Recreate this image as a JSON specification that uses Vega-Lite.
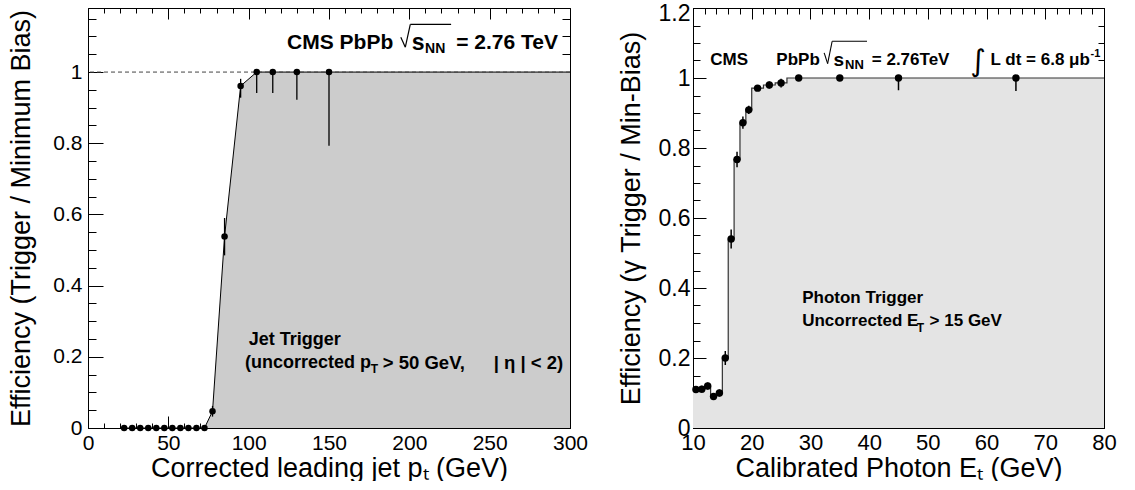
{
  "$schema": "https://vega.github.io/schema/vega-lite/v6.json",
  "background": "white",
  "padding": {"left": 7, "top": 2, "right": 0, "bottom": 0},
  "spacing": 29,
  "datasets": {
    "jet": [
      {"pt": 22.5, "eff": 0, "lo": null, "hi": null},
      {"pt": 27.5, "eff": 0, "lo": null, "hi": null},
      {"pt": 32.5, "eff": 0, "lo": null, "hi": null},
      {"pt": 37.5, "eff": 0, "lo": null, "hi": null},
      {"pt": 42.5, "eff": 0, "lo": null, "hi": null},
      {"pt": 47.5, "eff": 0, "lo": null, "hi": null},
      {"pt": 52.5, "eff": 0, "lo": null, "hi": null},
      {"pt": 57.5, "eff": 0, "lo": null, "hi": null},
      {"pt": 62.5, "eff": 0, "lo": null, "hi": null},
      {"pt": 67.5, "eff": 0, "lo": null, "hi": null},
      {"pt": 72.5, "eff": 0, "lo": null, "hi": null},
      {"pt": 77.5, "eff": 0.047, "lo": 0.032, "hi": 0.062},
      {"pt": 85, "eff": 0.538, "lo": 0.485, "hi": 0.59},
      {"pt": 95, "eff": 0.961, "lo": 0.928, "hi": 0.981},
      {"pt": 105, "eff": 1, "lo": 0.941, "hi": 1},
      {"pt": 115, "eff": 1, "lo": 0.941, "hi": 1},
      {"pt": 130, "eff": 1, "lo": 0.922, "hi": 1},
      {"pt": 150, "eff": 1, "lo": 0.793, "hi": 1}
    ],
    "jetcurve": [
      {"pt": 22.5, "eff": 0},
      {"pt": 72.5, "eff": 0},
      {"pt": 77.5, "eff": 0.047},
      {"pt": 85, "eff": 0.538},
      {"pt": 95, "eff": 0.961},
      {"pt": 105, "eff": 1},
      {"pt": 300, "eff": 1}
    ],
    "pho": [
      {"et": 10.5, "eff": 0.11, "lo": 0.1, "hi": 0.12},
      {"et": 11.5, "eff": 0.111, "lo": 0.101, "hi": 0.121},
      {"et": 12.5, "eff": 0.12, "lo": 0.11, "hi": 0.13},
      {"et": 13.5, "eff": 0.09, "lo": 0.08, "hi": 0.1},
      {"et": 14.5, "eff": 0.1, "lo": 0.09, "hi": 0.11},
      {"et": 15.5, "eff": 0.2, "lo": 0.18, "hi": 0.22},
      {"et": 16.5, "eff": 0.54, "lo": 0.513, "hi": 0.567},
      {"et": 17.5, "eff": 0.767, "lo": 0.745, "hi": 0.789},
      {"et": 18.5, "eff": 0.872, "lo": 0.855, "hi": 0.89},
      {"et": 19.5, "eff": 0.909, "lo": 0.897, "hi": 0.921},
      {"et": 21, "eff": 0.971, "lo": 0.963, "hi": 0.979},
      {"et": 23, "eff": 0.98, "lo": 0.97, "hi": 0.99},
      {"et": 25, "eff": 0.986, "lo": 0.973, "hi": 0.998},
      {"et": 28, "eff": 1, "lo": 0.995, "hi": 1},
      {"et": 35, "eff": 1, "lo": 0.995, "hi": 1},
      {"et": 45, "eff": 1, "lo": 0.965, "hi": 1},
      {"et": 65, "eff": 1, "lo": 0.963, "hi": 1}
    ],
    "phostep": [
      {"edge": 10, "eff": 0.11},
      {"edge": 11, "eff": 0.111},
      {"edge": 12, "eff": 0.12},
      {"edge": 13, "eff": 0.09},
      {"edge": 14, "eff": 0.1},
      {"edge": 15, "eff": 0.2},
      {"edge": 16, "eff": 0.54},
      {"edge": 17, "eff": 0.767},
      {"edge": 18, "eff": 0.872},
      {"edge": 19, "eff": 0.909},
      {"edge": 20, "eff": 0.971},
      {"edge": 22, "eff": 0.98},
      {"edge": 24, "eff": 0.986},
      {"edge": 26, "eff": 1},
      {"edge": 30, "eff": 1},
      {"edge": 40, "eff": 1},
      {"edge": 50, "eff": 1},
      {"edge": 80, "eff": 1}
    ],
    "one": [{}]
  },
  "hconcat": [
    {
      "width": 482,
      "height": 420,
      "resolve": {"axis": {"x": "independent", "y": "independent"}},
      "layer": [
        {
          "data": {"name": "jetcurve"},
          "mark": {"type": "area", "color": "#cccccc", "clip": true},
          "encoding": {
            "x": {"field": "pt", "type": "quantitative", "scale": {"domain": [0, 300], "nice": false},
              "axis": {"orient": "bottom", "values": [0, 50, 100, 150, 200, 250, 300], "ticks": false, "domain": false, "labelFontSize": 21, "labelPadding": 4, "labelFlush": false, "labelOverlap": false, "title": "Corrected leading jet pₜ (GeV)", "titleFontSize": 27, "titlePadding": 2}},
            "y": {"field": "eff", "type": "quantitative", "stack": null, "scale": {"domain": [0, 1.18], "nice": false},
              "axis": {"orient": "left", "values": [0, 0.2, 0.4, 0.6, 0.8, 1], "format": "~g", "ticks": false, "domain": false, "labelFontSize": 21, "labelPadding": 6, "labelFlush": false, "labelOverlap": false, "title": "Efficiency (Trigger / Minimum Bias)", "titleFontSize": 27, "titlePadding": 17}}
          }
        },
        {
          "data": {"name": "jetcurve"},
          "mark": {"type": "line", "color": "black", "strokeWidth": 1, "clip": true},
          "encoding": {
            "x": {"field": "pt", "type": "quantitative",
              "axis": {"orient": "bottom", "values": [0,10,20,30,40,50,60,70,80,90,100,110,120,130,140,150,160,170,180,190,200,210,220,230,240,250,260,270,280,290,300], "labels": false, "title": null, "tickSize": -5, "domain": true}},
            "y": {"field": "eff", "type": "quantitative",
              "axis": {"orient": "left", "values": [0,0.05,0.1,0.15,0.2,0.25,0.3,0.35,0.4,0.45,0.5,0.55,0.6,0.65,0.7,0.75,0.8,0.85,0.9,0.95,1,1.05,1.1,1.15], "labels": false, "title": null, "tickSize": -8, "domain": true}}
          }
        },
        {
          "data": {"name": "one"},
          "mark": {"type": "rule", "color": "#444444", "strokeDash": [4, 3], "strokeWidth": 1},
          "encoding": {"y": {"datum": 1, "type": "quantitative", "axis": null}}
        },
        {
          "data": {"name": "jet"},
          "transform": [{"filter": "datum.lo != null"}],
          "mark": {"type": "rule", "color": "black", "strokeWidth": 1.3},
          "encoding": {
            "x": {"field": "pt", "type": "quantitative",
              "axis": {"orient": "bottom", "values": [0, 50, 100, 150, 200, 250, 300], "labels": false, "title": null, "tickSize": -12, "domain": false}},
            "y": {"field": "lo", "type": "quantitative",
              "axis": {"orient": "left", "values": [0, 0.2, 0.4, 0.6, 0.8, 1], "labels": false, "title": null, "tickSize": -15, "domain": false}},
            "y2": {"field": "hi"}
          }
        },
        {
          "data": {"name": "jet"},
          "mark": {"type": "circle", "color": "black", "opacity": 1, "size": 42},
          "encoding": {
            "x": {"field": "pt", "type": "quantitative",
              "axis": {"orient": "top", "values": [0,10,20,30,40,50,60,70,80,90,100,110,120,130,140,150,160,170,180,190,200,210,220,230,240,250,260,270,280,290,300], "labels": false, "title": null, "tickSize": -5, "domain": true}},
            "y": {"field": "eff", "type": "quantitative",
              "axis": {"orient": "right", "values": [0,0.05,0.1,0.15,0.2,0.25,0.3,0.35,0.4,0.45,0.5,0.55,0.6,0.65,0.7,0.75,0.8,0.85,0.9,0.95,1,1.05,1.1,1.15], "labels": false, "title": null, "tickSize": -8, "domain": true}}
          }
        },
        {
          "data": {"name": "one"},
          "mark": {"type": "text", "text": "CMS PbPb", "align": "right", "fontSize": 21, "fontWeight": "bold", "font": "Liberation Sans", "color": "black"},
          "encoding": {
            "x": {"datum": 190, "type": "quantitative",
              "axis": {"orient": "top", "values": [0, 50, 100, 150, 200, 250, 300], "labels": false, "title": null, "tickSize": -11, "domain": false}},
            "y": {"datum": 1.082, "type": "quantitative",
              "axis": {"orient": "right", "values": [0, 0.2, 0.4, 0.6, 0.8, 1], "labels": false, "title": null, "tickSize": -15, "domain": false}}
          }
        },
        {
          "data": {"name": "one"},
          "mark": {"type": "rule", "color": "black", "strokeWidth": 1.2},
          "encoding": {"x": {"datum": 194.7, "type": "quantitative", "axis": null}, "x2": {"datum": 197.5}, "y": {"datum": 1.098, "type": "quantitative", "axis": null}, "y2": {"datum": 1.07}}
        },
        {
          "data": {"name": "one"},
          "mark": {"type": "rule", "color": "black", "strokeWidth": 1.2},
          "encoding": {"x": {"datum": 197.5, "type": "quantitative", "axis": null}, "x2": {"datum": 200.6}, "y": {"datum": 1.07, "type": "quantitative", "axis": null}, "y2": {"datum": 1.134}}
        },
        {
          "data": {"name": "one"},
          "mark": {"type": "rule", "color": "black", "strokeWidth": 1.2},
          "encoding": {"x": {"datum": 200.6, "type": "quantitative", "axis": null}, "x2": {"datum": 226}, "y": {"datum": 1.134, "type": "quantitative", "axis": null}}
        },
        {
          "data": {"name": "one"},
          "mark": {"type": "text", "text": "s", "align": "left", "fontSize": 23, "fontWeight": "bold", "font": "Liberation Sans", "color": "black"},
          "encoding": {"x": {"datum": 201.5, "type": "quantitative", "axis": null}, "y": {"datum": 1.082, "type": "quantitative", "axis": null}}
        },
        {
          "data": {"name": "one"},
          "mark": {"type": "text", "text": "NN", "align": "left", "fontSize": 14, "fontWeight": "bold", "font": "Liberation Sans", "color": "black"},
          "encoding": {"x": {"datum": 209.8, "type": "quantitative", "axis": null}, "y": {"datum": 1.066, "type": "quantitative", "axis": null}}
        },
        {
          "data": {"name": "one"},
          "mark": {"type": "text", "text": "= 2.76 TeV", "align": "right", "fontSize": 21, "fontWeight": "bold", "font": "Liberation Sans", "color": "black"},
          "encoding": {"x": {"datum": 292.5, "type": "quantitative", "axis": null}, "y": {"datum": 1.082, "type": "quantitative", "axis": null}}
        },
        {
          "data": {"name": "one"},
          "mark": {"type": "text", "text": "Jet Trigger", "align": "left", "fontSize": 18, "fontWeight": "bold", "font": "Liberation Sans", "color": "black"},
          "encoding": {"x": {"datum": 100, "type": "quantitative", "axis": null}, "y": {"datum": 0.247, "type": "quantitative", "axis": null}}
        },
        {
          "data": {"name": "one"},
          "mark": {"type": "text", "text": "(uncorrected p", "align": "left", "fontSize": 18, "fontWeight": "bold", "font": "Liberation Sans", "color": "black"},
          "encoding": {"x": {"datum": 97.7, "type": "quantitative", "axis": null}, "y": {"datum": 0.182, "type": "quantitative", "axis": null}}
        },
        {
          "data": {"name": "one"},
          "mark": {"type": "text", "text": "T", "align": "left", "fontSize": 12, "fontWeight": "bold", "font": "Liberation Sans", "color": "black"},
          "encoding": {"x": {"datum": 176, "type": "quantitative", "axis": null}, "y": {"datum": 0.165, "type": "quantitative", "axis": null}}
        },
        {
          "data": {"name": "one"},
          "mark": {"type": "text", "text": "> 50 GeV,", "align": "left", "fontSize": 18.5, "fontWeight": "bold", "font": "Liberation Sans", "color": "black"},
          "encoding": {"x": {"datum": 183.5, "type": "quantitative", "axis": null}, "y": {"datum": 0.182, "type": "quantitative", "axis": null}}
        },
        {
          "data": {"name": "one"},
          "mark": {"type": "text", "text": "| η | < 2)", "align": "right", "fontSize": 18.5, "fontWeight": "bold", "font": "Liberation Sans", "color": "black"},
          "encoding": {"x": {"datum": 295.8, "type": "quantitative", "axis": null}, "y": {"datum": 0.182, "type": "quantitative", "axis": null}}
        }
      ]
    },
    {
      "width": 411,
      "height": 420,
      "resolve": {"axis": {"x": "independent", "y": "independent"}},
      "layer": [
        {
          "data": {"name": "phostep"},
          "mark": {"type": "area", "color": "#e4e4e4", "interpolate": "step-after", "clip": true},
          "encoding": {
            "x": {"field": "edge", "type": "quantitative", "scale": {"domain": [10, 80], "nice": false},
              "axis": {"orient": "bottom", "values": [10, 20, 30, 40, 50, 60, 70, 80], "ticks": false, "domain": false, "labelFontSize": 22, "labelPadding": 4, "labelFlush": false, "labelOverlap": false, "title": "Calibrated Photon Eₜ (GeV)", "titleFontSize": 27, "titlePadding": 2}},
            "y": {"field": "eff", "type": "quantitative", "stack": null, "scale": {"domain": [0, 1.2], "nice": false},
              "axis": {"orient": "left", "values": [0, 0.2, 0.4, 0.6, 0.8, 1], "format": "~g", "ticks": false, "domain": false, "labelFontSize": 23, "labelPadding": 3, "labelFlush": false, "labelOverlap": false, "title": "Efficiency (γ Trigger / Min-Bias)", "titleFontSize": 27, "titlePadding": 13}}
          }
        },
        {
          "data": {"name": "phostep"},
          "mark": {"type": "line", "color": "#333333", "strokeWidth": 1.2, "interpolate": "step-after", "clip": true},
          "encoding": {
            "x": {"field": "edge", "type": "quantitative",
              "axis": {"orient": "bottom", "values": [10,12,14,16,18,20,22,24,26,28,30,32,34,36,38,40,42,44,46,48,50,52,54,56,58,60,62,64,66,68,70,72,74,76,78,80], "labels": false, "title": null, "tickSize": -6, "domain": true}},
            "y": {"field": "eff", "type": "quantitative",
              "axis": {"orient": "left", "values": [0,0.05,0.1,0.15,0.2,0.25,0.3,0.35,0.4,0.45,0.5,0.55,0.6,0.65,0.7,0.75,0.8,0.85,0.9,0.95,1,1.05,1.1,1.15,1.2], "labels": false, "title": null, "tickSize": -7, "domain": true}}
          }
        },
        {
          "data": {"name": "pho"},
          "mark": {"type": "rule", "color": "black", "strokeWidth": 1.5},
          "encoding": {
            "x": {"field": "et", "type": "quantitative",
              "axis": {"orient": "bottom", "values": [10, 20, 30, 40, 50, 60, 70, 80], "labels": false, "title": null, "tickSize": -12, "domain": false}},
            "y": {"field": "lo", "type": "quantitative",
              "axis": {"orient": "left", "values": [0, 0.2, 0.4, 0.6, 0.8, 1, 1.2], "labels": false, "title": null, "tickSize": -13, "domain": false}},
            "y2": {"field": "hi"}
          }
        },
        {
          "data": {"name": "pho"},
          "mark": {"type": "circle", "color": "black", "opacity": 1, "size": 55},
          "encoding": {
            "x": {"field": "et", "type": "quantitative",
              "axis": {"orient": "top", "values": [10,12,14,16,18,20,22,24,26,28,30,32,34,36,38,40,42,44,46,48,50,52,54,56,58,60,62,64,66,68,70,72,74,76,78,80], "labels": false, "title": null, "tickSize": -6, "domain": true}},
            "y": {"field": "eff", "type": "quantitative",
              "axis": {"orient": "right", "values": [0,0.05,0.1,0.15,0.2,0.25,0.3,0.35,0.4,0.45,0.5,0.55,0.6,0.65,0.7,0.75,0.8,0.85,0.9,0.95,1,1.05,1.1,1.15,1.2], "labels": false, "title": null, "tickSize": -6, "domain": true}}
          }
        },
        {
          "data": {"name": "one"},
          "mark": {"type": "text", "text": "CMS", "align": "left", "fontSize": 17, "fontWeight": "bold", "font": "Liberation Sans", "color": "black"},
          "encoding": {
            "x": {"datum": 12.94, "type": "quantitative",
              "axis": {"orient": "top", "values": [10, 20, 30, 40, 50, 60, 70, 80], "labels": false, "title": null, "tickSize": -11, "domain": false}},
            "y": {"datum": 1.052, "type": "quantitative",
              "axis": {"orient": "right", "values": [0, 0.2, 0.4, 0.6, 0.8, 1, 1.2], "labels": false, "title": null, "tickSize": -13, "domain": false}}
          }
        },
        {
          "data": {"name": "one"},
          "mark": {"type": "text", "text": "PbPb", "align": "right", "fontSize": 17, "fontWeight": "bold", "font": "Liberation Sans", "color": "black"},
          "encoding": {
            "x": {"datum": 31.6, "type": "quantitative", "axis": null},
            "y": {"datum": 1.052, "type": "quantitative",
              "axis": {"orient": "left", "values": [1.2], "format": ".1f", "ticks": false, "domain": false, "labelFontSize": 23, "labelPadding": 3, "labelFlush": true, "labelFlushOffset": 6, "title": null}}
          }
        },
        {
          "data": {"name": "one"},
          "mark": {"type": "rule", "color": "black", "strokeWidth": 1.1},
          "encoding": {"x": {"datum": 32.34, "type": "quantitative", "axis": null}, "x2": {"datum": 32.93}, "y": {"datum": 1.072, "type": "quantitative", "axis": null}, "y2": {"datum": 1.041}}
        },
        {
          "data": {"name": "one"},
          "mark": {"type": "rule", "color": "black", "strokeWidth": 1.1},
          "encoding": {"x": {"datum": 32.93, "type": "quantitative", "axis": null}, "x2": {"datum": 33.7}, "y": {"datum": 1.041, "type": "quantitative", "axis": null}, "y2": {"datum": 1.105}}
        },
        {
          "data": {"name": "one"},
          "mark": {"type": "rule", "color": "black", "strokeWidth": 1.1},
          "encoding": {"x": {"datum": 33.7, "type": "quantitative", "axis": null}, "x2": {"datum": 39.64}, "y": {"datum": 1.105, "type": "quantitative", "axis": null}}
        },
        {
          "data": {"name": "one"},
          "mark": {"type": "text", "text": "s", "align": "left", "fontSize": 19, "fontWeight": "bold", "font": "Liberation Sans", "color": "black"},
          "encoding": {"x": {"datum": 33.95, "type": "quantitative", "axis": null}, "y": {"datum": 1.052, "type": "quantitative", "axis": null}}
        },
        {
          "data": {"name": "one"},
          "mark": {"type": "text", "text": "NN", "align": "left", "fontSize": 13, "fontWeight": "bold", "font": "Liberation Sans", "color": "black"},
          "encoding": {"x": {"datum": 35.9, "type": "quantitative", "axis": null}, "y": {"datum": 1.036, "type": "quantitative", "axis": null}}
        },
        {
          "data": {"name": "one"},
          "mark": {"type": "text", "text": "= 2.76TeV", "align": "left", "fontSize": 17, "fontWeight": "bold", "font": "Liberation Sans", "color": "black"},
          "encoding": {"x": {"datum": 40.45, "type": "quantitative", "axis": null}, "y": {"datum": 1.052, "type": "quantitative", "axis": null}}
        },
        {
          "data": {"name": "one"},
          "mark": {"type": "text", "text": "∫", "align": "left", "fontSize": 30, "font": "DejaVu Sans", "color": "black"},
          "encoding": {"x": {"datum": 57.2, "type": "quantitative", "axis": null}, "y": {"datum": 1.045, "type": "quantitative", "axis": null}}
        },
        {
          "data": {"name": "one"},
          "mark": {"type": "text", "text": "L dt = 6.8 μb", "align": "right", "fontSize": 17, "fontWeight": "bold", "font": "Liberation Sans", "color": "black"},
          "encoding": {"x": {"datum": 77.6, "type": "quantitative", "axis": null}, "y": {"datum": 1.052, "type": "quantitative", "axis": null}}
        },
        {
          "data": {"name": "one"},
          "mark": {"type": "text", "text": "-1", "align": "left", "fontSize": 11, "fontWeight": "bold", "font": "Liberation Sans", "color": "black"},
          "encoding": {"x": {"datum": 77.7, "type": "quantitative", "axis": null}, "y": {"datum": 1.07, "type": "quantitative", "axis": null}}
        },
        {
          "data": {"name": "one"},
          "mark": {"type": "text", "text": "Photon Trigger", "align": "left", "fontSize": 17, "fontWeight": "bold", "font": "Liberation Sans", "color": "black"},
          "encoding": {"x": {"datum": 28.6, "type": "quantitative", "axis": null}, "y": {"datum": 0.371, "type": "quantitative", "axis": null}}
        },
        {
          "data": {"name": "one"},
          "mark": {"type": "text", "text": "Uncorrected E", "align": "left", "fontSize": 17, "fontWeight": "bold", "font": "Liberation Sans", "color": "black"},
          "encoding": {"x": {"datum": 28.6, "type": "quantitative", "axis": null}, "y": {"datum": 0.305, "type": "quantitative", "axis": null}}
        },
        {
          "data": {"name": "one"},
          "mark": {"type": "text", "text": "T", "align": "left", "fontSize": 12, "fontWeight": "bold", "font": "Liberation Sans", "color": "black"},
          "encoding": {"x": {"datum": 48.1, "type": "quantitative", "axis": null}, "y": {"datum": 0.287, "type": "quantitative", "axis": null}}
        },
        {
          "data": {"name": "one"},
          "mark": {"type": "text", "text": "> 15 GeV", "align": "left", "fontSize": 17, "fontWeight": "bold", "font": "Liberation Sans", "color": "black"},
          "encoding": {"x": {"datum": 50.3, "type": "quantitative", "axis": null}, "y": {"datum": 0.305, "type": "quantitative", "axis": null}}
        }
      ]
    }
  ],
  "config": {
    "font": "Liberation Sans",
    "view": {"stroke": null},
    "axis": {
      "grid": false,
      "zindex": 1,
      "labelColor": "black",
      "titleColor": "black",
      "tickColor": "black",
      "tickWidth": 1,
      "domainColor": "black",
      "domainWidth": 1,
      "labelFont": "Liberation Sans",
      "titleFont": "Liberation Sans",
      "titleFontWeight": "normal"
    }
  }
}
